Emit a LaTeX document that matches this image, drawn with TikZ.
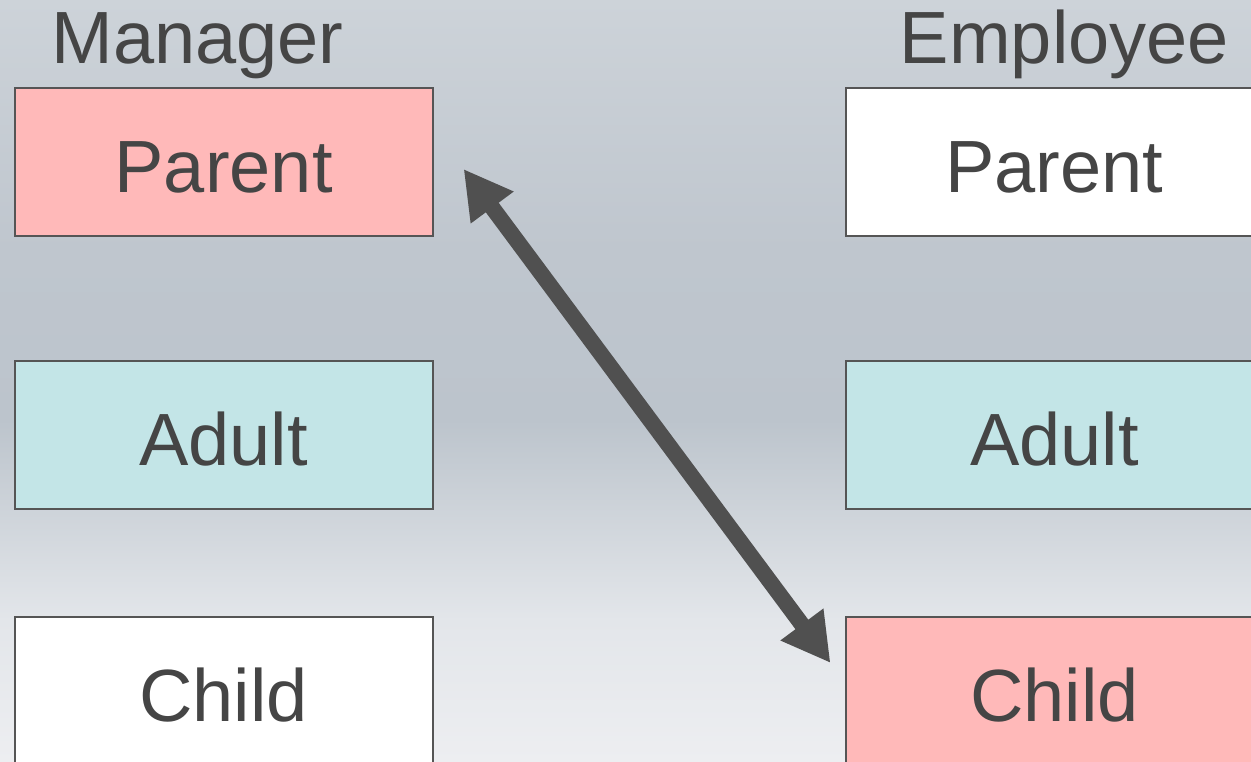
\documentclass[tikz,border=0pt]{standalone}
\usepackage{fontspec}
\setmainfont{Liberation Sans}
\usetikzlibrary{arrows.meta}

\definecolor{bgA}{HTML}{CDD3D9}
\definecolor{bgB}{HTML}{BFC6CE}
\definecolor{bgC}{HTML}{BCC4CC}
\definecolor{bgD}{HTML}{E3E6EA}
\definecolor{bgE}{HTML}{EDEEF1}
\definecolor{inkgray}{HTML}{454545}
\definecolor{edgegray}{HTML}{555555}
\definecolor{arrowgray}{HTML}{505050}
\definecolor{rolepink}{HTML}{FFB9B9}
\definecolor{rolecyan}{HTML}{C3E5E7}

\tikzset{
  rolebox/.style={draw=edgegray, line width=2pt, minimum width=418pt,
    minimum height=148pt, inner sep=0pt, text height=61pt, text depth=0pt,
    text=inkgray, font=\fontsize{74}{80}\selectfont},
  heading/.style={anchor=base, inner sep=0pt, text=inkgray,
    font=\fontsize{74}{80}\selectfont},
  bigtip/.tip={Triangle[length=48pt,width=50pt]},
  link/.style={draw=arrowgray, line width=16pt, bigtip-bigtip}
}

\begin{document}
\begin{tikzpicture}[x=1pt,y=-1pt]
  \useasboundingbox (0,0) rectangle (1251,762);
  \clip (0,0) rectangle (1251,762);

  % soft vertical background gradient
  \shade[top color=bgA, bottom color=bgB] (0,0) rectangle (1251,250);
  \shade[top color=bgB, bottom color=bgC] (0,249.5) rectangle (1251,420);
  \shade[top color=bgC, bottom color=bgD] (0,419.5) rectangle (1251,620);
  \shade[top color=bgD, bottom color=bgE] (0,619.5) rectangle (1251,762);

  % column headings
  \node[heading] (mgr) at (197.5,64) {Manager};
  \node[heading] (emp) at (1064.5,64) {Employee};

  % manager states
  \node[rolebox, fill=rolepink] (mP) at (223.6,162.5) {Parent};
  \node[rolebox, fill=rolecyan] (mA) at (223.6,434.7) {Adult};
  \node[rolebox, fill=white]    (mC) at (223.6,690.7) {Child};

  % employee states
  \node[rolebox, fill=white]    (eP) at (1054.5,162.5) {Parent};
  \node[rolebox, fill=rolecyan] (eA) at (1054.5,434.7) {Adult};
  \node[rolebox, fill=rolepink] (eC) at (1054.5,690.7) {Child};

  % crossed transaction: manager Parent <-> employee Child
  \coordinate (linkA) at ([shift={(30,6.5)}]mP.east);
  \coordinate (linkB) at ([shift={(-14,-27.7)}]eC.west);
  \draw[link] (linkA) -- (linkB);
\end{tikzpicture}
\end{document}
